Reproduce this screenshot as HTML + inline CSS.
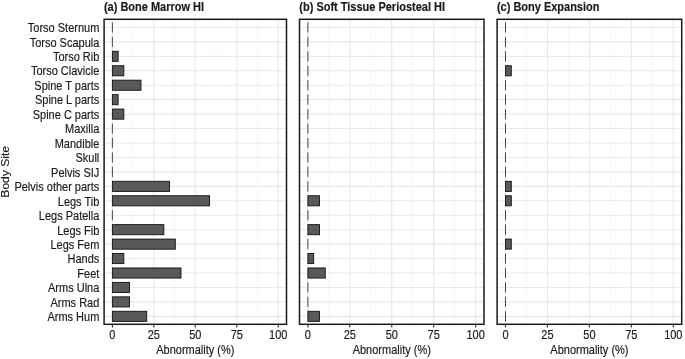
<!DOCTYPE html>
<html><head><meta charset="utf-8"><style>
html,body{margin:0;padding:0;background:#fff;}
svg{display:block;will-change:transform;filter:blur(0.45px);}
text{font-family:"Liberation Sans",sans-serif;stroke:#1a1a1a;stroke-width:0.15px;}
</style></head><body>
<svg width="685" height="359" viewBox="0 0 685 359">
<rect x="0" y="0" width="685" height="359" fill="#fff"/>
<line x1="133.12" y1="19.3" x2="133.12" y2="324.3" stroke="#f1f1f1" stroke-width="0.6"/>
<line x1="174.57" y1="19.3" x2="174.57" y2="324.3" stroke="#f1f1f1" stroke-width="0.6"/>
<line x1="216.03" y1="19.3" x2="216.03" y2="324.3" stroke="#f1f1f1" stroke-width="0.6"/>
<line x1="257.48" y1="19.3" x2="257.48" y2="324.3" stroke="#f1f1f1" stroke-width="0.6"/>
<line x1="112.39" y1="19.3" x2="112.39" y2="324.3" stroke="#e9e9e9" stroke-width="1.1"/>
<line x1="153.85" y1="19.3" x2="153.85" y2="324.3" stroke="#e9e9e9" stroke-width="1.1"/>
<line x1="195.30" y1="19.3" x2="195.30" y2="324.3" stroke="#e9e9e9" stroke-width="1.1"/>
<line x1="236.75" y1="19.3" x2="236.75" y2="324.3" stroke="#e9e9e9" stroke-width="1.1"/>
<line x1="278.21" y1="19.3" x2="278.21" y2="324.3" stroke="#e9e9e9" stroke-width="1.1"/>
<line x1="104.1" y1="27.45" x2="286.5" y2="27.45" stroke="#e9e9e9" stroke-width="1.1"/>
<line x1="104.1" y1="41.89" x2="286.5" y2="41.89" stroke="#e9e9e9" stroke-width="1.1"/>
<line x1="104.1" y1="56.34" x2="286.5" y2="56.34" stroke="#e9e9e9" stroke-width="1.1"/>
<line x1="104.1" y1="70.78" x2="286.5" y2="70.78" stroke="#e9e9e9" stroke-width="1.1"/>
<line x1="104.1" y1="85.23" x2="286.5" y2="85.23" stroke="#e9e9e9" stroke-width="1.1"/>
<line x1="104.1" y1="99.67" x2="286.5" y2="99.67" stroke="#e9e9e9" stroke-width="1.1"/>
<line x1="104.1" y1="114.12" x2="286.5" y2="114.12" stroke="#e9e9e9" stroke-width="1.1"/>
<line x1="104.1" y1="128.56" x2="286.5" y2="128.56" stroke="#e9e9e9" stroke-width="1.1"/>
<line x1="104.1" y1="143.01" x2="286.5" y2="143.01" stroke="#e9e9e9" stroke-width="1.1"/>
<line x1="104.1" y1="157.45" x2="286.5" y2="157.45" stroke="#e9e9e9" stroke-width="1.1"/>
<line x1="104.1" y1="171.90" x2="286.5" y2="171.90" stroke="#e9e9e9" stroke-width="1.1"/>
<line x1="104.1" y1="186.34" x2="286.5" y2="186.34" stroke="#e9e9e9" stroke-width="1.1"/>
<line x1="104.1" y1="200.79" x2="286.5" y2="200.79" stroke="#e9e9e9" stroke-width="1.1"/>
<line x1="104.1" y1="215.23" x2="286.5" y2="215.23" stroke="#e9e9e9" stroke-width="1.1"/>
<line x1="104.1" y1="229.68" x2="286.5" y2="229.68" stroke="#e9e9e9" stroke-width="1.1"/>
<line x1="104.1" y1="244.12" x2="286.5" y2="244.12" stroke="#e9e9e9" stroke-width="1.1"/>
<line x1="104.1" y1="258.57" x2="286.5" y2="258.57" stroke="#e9e9e9" stroke-width="1.1"/>
<line x1="104.1" y1="273.01" x2="286.5" y2="273.01" stroke="#e9e9e9" stroke-width="1.1"/>
<line x1="104.1" y1="287.46" x2="286.5" y2="287.46" stroke="#e9e9e9" stroke-width="1.1"/>
<line x1="104.1" y1="301.90" x2="286.5" y2="301.90" stroke="#e9e9e9" stroke-width="1.1"/>
<line x1="104.1" y1="316.35" x2="286.5" y2="316.35" stroke="#e9e9e9" stroke-width="1.1"/>
<line x1="112.39" y1="22.39" x2="112.39" y2="32.51" stroke="#333" stroke-width="0.9"/>
<line x1="112.39" y1="36.84" x2="112.39" y2="46.95" stroke="#333" stroke-width="0.9"/>
<rect x="112.39" y="51.28" width="5.72" height="10.11" fill="#595959" stroke="#111" stroke-width="0.9"/>
<rect x="112.39" y="65.73" width="11.44" height="10.11" fill="#595959" stroke="#111" stroke-width="0.9"/>
<rect x="112.39" y="80.17" width="28.59" height="10.11" fill="#595959" stroke="#111" stroke-width="0.9"/>
<rect x="112.39" y="94.62" width="5.72" height="10.11" fill="#595959" stroke="#111" stroke-width="0.9"/>
<rect x="112.39" y="109.06" width="11.44" height="10.11" fill="#595959" stroke="#111" stroke-width="0.9"/>
<line x1="112.39" y1="123.51" x2="112.39" y2="133.62" stroke="#333" stroke-width="0.9"/>
<line x1="112.39" y1="137.95" x2="112.39" y2="148.07" stroke="#333" stroke-width="0.9"/>
<line x1="112.39" y1="152.40" x2="112.39" y2="162.51" stroke="#333" stroke-width="0.9"/>
<line x1="112.39" y1="166.84" x2="112.39" y2="176.96" stroke="#333" stroke-width="0.9"/>
<rect x="112.39" y="181.29" width="57.18" height="10.11" fill="#595959" stroke="#111" stroke-width="0.9"/>
<rect x="112.39" y="195.73" width="97.20" height="10.11" fill="#595959" stroke="#111" stroke-width="0.9"/>
<line x1="112.39" y1="210.18" x2="112.39" y2="220.29" stroke="#333" stroke-width="0.9"/>
<rect x="112.39" y="224.62" width="51.46" height="10.11" fill="#595959" stroke="#111" stroke-width="0.9"/>
<rect x="112.39" y="239.07" width="62.90" height="10.11" fill="#595959" stroke="#111" stroke-width="0.9"/>
<rect x="112.39" y="253.51" width="11.44" height="10.11" fill="#595959" stroke="#111" stroke-width="0.9"/>
<rect x="112.39" y="267.96" width="68.61" height="10.11" fill="#595959" stroke="#111" stroke-width="0.9"/>
<rect x="112.39" y="282.40" width="17.15" height="10.11" fill="#595959" stroke="#111" stroke-width="0.9"/>
<rect x="112.39" y="296.85" width="17.15" height="10.11" fill="#595959" stroke="#111" stroke-width="0.9"/>
<rect x="112.39" y="311.29" width="34.31" height="10.11" fill="#595959" stroke="#111" stroke-width="0.9"/>
<rect x="104.1" y="19.3" width="182.40" height="305.00" fill="none" stroke="#1a1a1a" stroke-width="1.5"/>
<line x1="112.39" y1="324.3" x2="112.39" y2="327.5" stroke="#333" stroke-width="1.1"/>
<text transform="translate(112.39,338.80) scale(1,1.1)" text-anchor="middle" font-size="11" fill="#1a1a1a">0</text>
<line x1="153.85" y1="324.3" x2="153.85" y2="327.5" stroke="#333" stroke-width="1.1"/>
<text transform="translate(153.85,338.80) scale(1,1.1)" text-anchor="middle" font-size="11" fill="#1a1a1a">25</text>
<line x1="195.30" y1="324.3" x2="195.30" y2="327.5" stroke="#333" stroke-width="1.1"/>
<text transform="translate(195.30,338.80) scale(1,1.1)" text-anchor="middle" font-size="11" fill="#1a1a1a">50</text>
<line x1="236.75" y1="324.3" x2="236.75" y2="327.5" stroke="#333" stroke-width="1.1"/>
<text transform="translate(236.75,338.80) scale(1,1.1)" text-anchor="middle" font-size="11" fill="#1a1a1a">75</text>
<line x1="278.21" y1="324.3" x2="278.21" y2="327.5" stroke="#333" stroke-width="1.1"/>
<text transform="translate(278.21,338.80) scale(1,1.1)" text-anchor="middle" font-size="11" fill="#1a1a1a">100</text>
<text transform="translate(195.30,353.50) scale(1,1.1)" text-anchor="middle" font-size="11" fill="#1a1a1a">Abnormality (%)</text>
<text transform="translate(103.90,10.60) scale(1,1.1)" text-anchor="start" font-size="11" font-weight="bold" fill="#1a1a1a">(a) Bone Marrow HI</text>
<line x1="328.85" y1="19.3" x2="328.85" y2="324.3" stroke="#f1f1f1" stroke-width="0.6"/>
<line x1="370.78" y1="19.3" x2="370.78" y2="324.3" stroke="#f1f1f1" stroke-width="0.6"/>
<line x1="412.72" y1="19.3" x2="412.72" y2="324.3" stroke="#f1f1f1" stroke-width="0.6"/>
<line x1="454.65" y1="19.3" x2="454.65" y2="324.3" stroke="#f1f1f1" stroke-width="0.6"/>
<line x1="307.89" y1="19.3" x2="307.89" y2="324.3" stroke="#e9e9e9" stroke-width="1.1"/>
<line x1="349.82" y1="19.3" x2="349.82" y2="324.3" stroke="#e9e9e9" stroke-width="1.1"/>
<line x1="391.75" y1="19.3" x2="391.75" y2="324.3" stroke="#e9e9e9" stroke-width="1.1"/>
<line x1="433.68" y1="19.3" x2="433.68" y2="324.3" stroke="#e9e9e9" stroke-width="1.1"/>
<line x1="475.61" y1="19.3" x2="475.61" y2="324.3" stroke="#e9e9e9" stroke-width="1.1"/>
<line x1="299.5" y1="27.45" x2="484.0" y2="27.45" stroke="#e9e9e9" stroke-width="1.1"/>
<line x1="299.5" y1="41.89" x2="484.0" y2="41.89" stroke="#e9e9e9" stroke-width="1.1"/>
<line x1="299.5" y1="56.34" x2="484.0" y2="56.34" stroke="#e9e9e9" stroke-width="1.1"/>
<line x1="299.5" y1="70.78" x2="484.0" y2="70.78" stroke="#e9e9e9" stroke-width="1.1"/>
<line x1="299.5" y1="85.23" x2="484.0" y2="85.23" stroke="#e9e9e9" stroke-width="1.1"/>
<line x1="299.5" y1="99.67" x2="484.0" y2="99.67" stroke="#e9e9e9" stroke-width="1.1"/>
<line x1="299.5" y1="114.12" x2="484.0" y2="114.12" stroke="#e9e9e9" stroke-width="1.1"/>
<line x1="299.5" y1="128.56" x2="484.0" y2="128.56" stroke="#e9e9e9" stroke-width="1.1"/>
<line x1="299.5" y1="143.01" x2="484.0" y2="143.01" stroke="#e9e9e9" stroke-width="1.1"/>
<line x1="299.5" y1="157.45" x2="484.0" y2="157.45" stroke="#e9e9e9" stroke-width="1.1"/>
<line x1="299.5" y1="171.90" x2="484.0" y2="171.90" stroke="#e9e9e9" stroke-width="1.1"/>
<line x1="299.5" y1="186.34" x2="484.0" y2="186.34" stroke="#e9e9e9" stroke-width="1.1"/>
<line x1="299.5" y1="200.79" x2="484.0" y2="200.79" stroke="#e9e9e9" stroke-width="1.1"/>
<line x1="299.5" y1="215.23" x2="484.0" y2="215.23" stroke="#e9e9e9" stroke-width="1.1"/>
<line x1="299.5" y1="229.68" x2="484.0" y2="229.68" stroke="#e9e9e9" stroke-width="1.1"/>
<line x1="299.5" y1="244.12" x2="484.0" y2="244.12" stroke="#e9e9e9" stroke-width="1.1"/>
<line x1="299.5" y1="258.57" x2="484.0" y2="258.57" stroke="#e9e9e9" stroke-width="1.1"/>
<line x1="299.5" y1="273.01" x2="484.0" y2="273.01" stroke="#e9e9e9" stroke-width="1.1"/>
<line x1="299.5" y1="287.46" x2="484.0" y2="287.46" stroke="#e9e9e9" stroke-width="1.1"/>
<line x1="299.5" y1="301.90" x2="484.0" y2="301.90" stroke="#e9e9e9" stroke-width="1.1"/>
<line x1="299.5" y1="316.35" x2="484.0" y2="316.35" stroke="#e9e9e9" stroke-width="1.1"/>
<line x1="307.89" y1="22.39" x2="307.89" y2="32.51" stroke="#333" stroke-width="0.9"/>
<line x1="307.89" y1="36.84" x2="307.89" y2="46.95" stroke="#333" stroke-width="0.9"/>
<line x1="307.89" y1="51.28" x2="307.89" y2="61.40" stroke="#333" stroke-width="0.9"/>
<line x1="307.89" y1="65.73" x2="307.89" y2="75.84" stroke="#333" stroke-width="0.9"/>
<line x1="307.89" y1="80.17" x2="307.89" y2="90.29" stroke="#333" stroke-width="0.9"/>
<line x1="307.89" y1="94.62" x2="307.89" y2="104.73" stroke="#333" stroke-width="0.9"/>
<line x1="307.89" y1="109.06" x2="307.89" y2="119.18" stroke="#333" stroke-width="0.9"/>
<line x1="307.89" y1="123.51" x2="307.89" y2="133.62" stroke="#333" stroke-width="0.9"/>
<line x1="307.89" y1="137.95" x2="307.89" y2="148.07" stroke="#333" stroke-width="0.9"/>
<line x1="307.89" y1="152.40" x2="307.89" y2="162.51" stroke="#333" stroke-width="0.9"/>
<line x1="307.89" y1="166.84" x2="307.89" y2="176.96" stroke="#333" stroke-width="0.9"/>
<line x1="307.89" y1="181.29" x2="307.89" y2="191.40" stroke="#333" stroke-width="0.9"/>
<rect x="307.89" y="195.73" width="11.57" height="10.11" fill="#595959" stroke="#111" stroke-width="0.9"/>
<line x1="307.89" y1="210.18" x2="307.89" y2="220.29" stroke="#333" stroke-width="0.9"/>
<rect x="307.89" y="224.62" width="11.57" height="10.11" fill="#595959" stroke="#111" stroke-width="0.9"/>
<line x1="307.89" y1="239.07" x2="307.89" y2="249.18" stroke="#333" stroke-width="0.9"/>
<rect x="307.89" y="253.51" width="5.78" height="10.11" fill="#595959" stroke="#111" stroke-width="0.9"/>
<rect x="307.89" y="267.96" width="17.35" height="10.11" fill="#595959" stroke="#111" stroke-width="0.9"/>
<line x1="307.89" y1="282.40" x2="307.89" y2="292.52" stroke="#333" stroke-width="0.9"/>
<line x1="307.89" y1="296.85" x2="307.89" y2="306.96" stroke="#333" stroke-width="0.9"/>
<rect x="307.89" y="311.29" width="11.57" height="10.11" fill="#595959" stroke="#111" stroke-width="0.9"/>
<rect x="299.5" y="19.3" width="184.50" height="305.00" fill="none" stroke="#1a1a1a" stroke-width="1.5"/>
<line x1="307.89" y1="324.3" x2="307.89" y2="327.5" stroke="#333" stroke-width="1.1"/>
<text transform="translate(307.89,338.80) scale(1,1.1)" text-anchor="middle" font-size="11" fill="#1a1a1a">0</text>
<line x1="349.82" y1="324.3" x2="349.82" y2="327.5" stroke="#333" stroke-width="1.1"/>
<text transform="translate(349.82,338.80) scale(1,1.1)" text-anchor="middle" font-size="11" fill="#1a1a1a">25</text>
<line x1="391.75" y1="324.3" x2="391.75" y2="327.5" stroke="#333" stroke-width="1.1"/>
<text transform="translate(391.75,338.80) scale(1,1.1)" text-anchor="middle" font-size="11" fill="#1a1a1a">50</text>
<line x1="433.68" y1="324.3" x2="433.68" y2="327.5" stroke="#333" stroke-width="1.1"/>
<text transform="translate(433.68,338.80) scale(1,1.1)" text-anchor="middle" font-size="11" fill="#1a1a1a">75</text>
<line x1="475.61" y1="324.3" x2="475.61" y2="327.5" stroke="#333" stroke-width="1.1"/>
<text transform="translate(475.61,338.80) scale(1,1.1)" text-anchor="middle" font-size="11" fill="#1a1a1a">100</text>
<text transform="translate(391.75,353.50) scale(1,1.1)" text-anchor="middle" font-size="11" fill="#1a1a1a">Abnormality (%)</text>
<text transform="translate(299.30,10.60) scale(1,1.1)" text-anchor="start" font-size="11" font-weight="bold" fill="#1a1a1a">(b) Soft Tissue Periosteal HI</text>
<line x1="526.47" y1="19.3" x2="526.47" y2="324.3" stroke="#f1f1f1" stroke-width="0.6"/>
<line x1="568.42" y1="19.3" x2="568.42" y2="324.3" stroke="#f1f1f1" stroke-width="0.6"/>
<line x1="610.38" y1="19.3" x2="610.38" y2="324.3" stroke="#f1f1f1" stroke-width="0.6"/>
<line x1="652.33" y1="19.3" x2="652.33" y2="324.3" stroke="#f1f1f1" stroke-width="0.6"/>
<line x1="505.49" y1="19.3" x2="505.49" y2="324.3" stroke="#e9e9e9" stroke-width="1.1"/>
<line x1="547.45" y1="19.3" x2="547.45" y2="324.3" stroke="#e9e9e9" stroke-width="1.1"/>
<line x1="589.40" y1="19.3" x2="589.40" y2="324.3" stroke="#e9e9e9" stroke-width="1.1"/>
<line x1="631.35" y1="19.3" x2="631.35" y2="324.3" stroke="#e9e9e9" stroke-width="1.1"/>
<line x1="673.31" y1="19.3" x2="673.31" y2="324.3" stroke="#e9e9e9" stroke-width="1.1"/>
<line x1="497.1" y1="27.45" x2="681.7" y2="27.45" stroke="#e9e9e9" stroke-width="1.1"/>
<line x1="497.1" y1="41.89" x2="681.7" y2="41.89" stroke="#e9e9e9" stroke-width="1.1"/>
<line x1="497.1" y1="56.34" x2="681.7" y2="56.34" stroke="#e9e9e9" stroke-width="1.1"/>
<line x1="497.1" y1="70.78" x2="681.7" y2="70.78" stroke="#e9e9e9" stroke-width="1.1"/>
<line x1="497.1" y1="85.23" x2="681.7" y2="85.23" stroke="#e9e9e9" stroke-width="1.1"/>
<line x1="497.1" y1="99.67" x2="681.7" y2="99.67" stroke="#e9e9e9" stroke-width="1.1"/>
<line x1="497.1" y1="114.12" x2="681.7" y2="114.12" stroke="#e9e9e9" stroke-width="1.1"/>
<line x1="497.1" y1="128.56" x2="681.7" y2="128.56" stroke="#e9e9e9" stroke-width="1.1"/>
<line x1="497.1" y1="143.01" x2="681.7" y2="143.01" stroke="#e9e9e9" stroke-width="1.1"/>
<line x1="497.1" y1="157.45" x2="681.7" y2="157.45" stroke="#e9e9e9" stroke-width="1.1"/>
<line x1="497.1" y1="171.90" x2="681.7" y2="171.90" stroke="#e9e9e9" stroke-width="1.1"/>
<line x1="497.1" y1="186.34" x2="681.7" y2="186.34" stroke="#e9e9e9" stroke-width="1.1"/>
<line x1="497.1" y1="200.79" x2="681.7" y2="200.79" stroke="#e9e9e9" stroke-width="1.1"/>
<line x1="497.1" y1="215.23" x2="681.7" y2="215.23" stroke="#e9e9e9" stroke-width="1.1"/>
<line x1="497.1" y1="229.68" x2="681.7" y2="229.68" stroke="#e9e9e9" stroke-width="1.1"/>
<line x1="497.1" y1="244.12" x2="681.7" y2="244.12" stroke="#e9e9e9" stroke-width="1.1"/>
<line x1="497.1" y1="258.57" x2="681.7" y2="258.57" stroke="#e9e9e9" stroke-width="1.1"/>
<line x1="497.1" y1="273.01" x2="681.7" y2="273.01" stroke="#e9e9e9" stroke-width="1.1"/>
<line x1="497.1" y1="287.46" x2="681.7" y2="287.46" stroke="#e9e9e9" stroke-width="1.1"/>
<line x1="497.1" y1="301.90" x2="681.7" y2="301.90" stroke="#e9e9e9" stroke-width="1.1"/>
<line x1="497.1" y1="316.35" x2="681.7" y2="316.35" stroke="#e9e9e9" stroke-width="1.1"/>
<line x1="505.49" y1="22.39" x2="505.49" y2="32.51" stroke="#333" stroke-width="0.9"/>
<line x1="505.49" y1="36.84" x2="505.49" y2="46.95" stroke="#333" stroke-width="0.9"/>
<line x1="505.49" y1="51.28" x2="505.49" y2="61.40" stroke="#333" stroke-width="0.9"/>
<rect x="505.49" y="65.73" width="5.79" height="10.11" fill="#595959" stroke="#111" stroke-width="0.9"/>
<line x1="505.49" y1="80.17" x2="505.49" y2="90.29" stroke="#333" stroke-width="0.9"/>
<line x1="505.49" y1="94.62" x2="505.49" y2="104.73" stroke="#333" stroke-width="0.9"/>
<line x1="505.49" y1="109.06" x2="505.49" y2="119.18" stroke="#333" stroke-width="0.9"/>
<line x1="505.49" y1="123.51" x2="505.49" y2="133.62" stroke="#333" stroke-width="0.9"/>
<line x1="505.49" y1="137.95" x2="505.49" y2="148.07" stroke="#333" stroke-width="0.9"/>
<line x1="505.49" y1="152.40" x2="505.49" y2="162.51" stroke="#333" stroke-width="0.9"/>
<line x1="505.49" y1="166.84" x2="505.49" y2="176.96" stroke="#333" stroke-width="0.9"/>
<rect x="505.49" y="181.29" width="5.79" height="10.11" fill="#595959" stroke="#111" stroke-width="0.9"/>
<rect x="505.49" y="195.73" width="5.79" height="10.11" fill="#595959" stroke="#111" stroke-width="0.9"/>
<line x1="505.49" y1="210.18" x2="505.49" y2="220.29" stroke="#333" stroke-width="0.9"/>
<line x1="505.49" y1="224.62" x2="505.49" y2="234.74" stroke="#333" stroke-width="0.9"/>
<rect x="505.49" y="239.07" width="5.79" height="10.11" fill="#595959" stroke="#111" stroke-width="0.9"/>
<line x1="505.49" y1="253.51" x2="505.49" y2="263.63" stroke="#333" stroke-width="0.9"/>
<line x1="505.49" y1="267.96" x2="505.49" y2="278.07" stroke="#333" stroke-width="0.9"/>
<line x1="505.49" y1="282.40" x2="505.49" y2="292.52" stroke="#333" stroke-width="0.9"/>
<line x1="505.49" y1="296.85" x2="505.49" y2="306.96" stroke="#333" stroke-width="0.9"/>
<line x1="505.49" y1="311.29" x2="505.49" y2="321.41" stroke="#333" stroke-width="0.9"/>
<rect x="497.1" y="19.3" width="184.60" height="305.00" fill="none" stroke="#1a1a1a" stroke-width="1.5"/>
<line x1="505.49" y1="324.3" x2="505.49" y2="327.5" stroke="#333" stroke-width="1.1"/>
<text transform="translate(505.49,338.80) scale(1,1.1)" text-anchor="middle" font-size="11" fill="#1a1a1a">0</text>
<line x1="547.45" y1="324.3" x2="547.45" y2="327.5" stroke="#333" stroke-width="1.1"/>
<text transform="translate(547.45,338.80) scale(1,1.1)" text-anchor="middle" font-size="11" fill="#1a1a1a">25</text>
<line x1="589.40" y1="324.3" x2="589.40" y2="327.5" stroke="#333" stroke-width="1.1"/>
<text transform="translate(589.40,338.80) scale(1,1.1)" text-anchor="middle" font-size="11" fill="#1a1a1a">50</text>
<line x1="631.35" y1="324.3" x2="631.35" y2="327.5" stroke="#333" stroke-width="1.1"/>
<text transform="translate(631.35,338.80) scale(1,1.1)" text-anchor="middle" font-size="11" fill="#1a1a1a">75</text>
<line x1="673.31" y1="324.3" x2="673.31" y2="327.5" stroke="#333" stroke-width="1.1"/>
<text transform="translate(673.31,338.80) scale(1,1.1)" text-anchor="middle" font-size="11" fill="#1a1a1a">100</text>
<text transform="translate(589.40,353.50) scale(1,1.1)" text-anchor="middle" font-size="11" fill="#1a1a1a">Abnormality (%)</text>
<text transform="translate(496.90,10.60) scale(1,1.1)" text-anchor="start" font-size="11" font-weight="bold" fill="#1a1a1a">(c) Bony Expansion</text>
<text transform="translate(99.30,32.05) scale(1,1.1)" text-anchor="end" font-size="11" fill="#1a1a1a">Torso Sternum</text>
<text transform="translate(99.30,46.52) scale(1,1.1)" text-anchor="end" font-size="11" fill="#1a1a1a">Torso Scapula</text>
<text transform="translate(99.30,60.98) scale(1,1.1)" text-anchor="end" font-size="11" fill="#1a1a1a">Torso Rib</text>
<text transform="translate(99.30,75.44) scale(1,1.1)" text-anchor="end" font-size="11" fill="#1a1a1a">Torso Clavicle</text>
<text transform="translate(99.30,89.91) scale(1,1.1)" text-anchor="end" font-size="11" fill="#1a1a1a">Spine T parts</text>
<text transform="translate(99.30,104.37) scale(1,1.1)" text-anchor="end" font-size="11" fill="#1a1a1a">Spine L parts</text>
<text transform="translate(99.30,118.84) scale(1,1.1)" text-anchor="end" font-size="11" fill="#1a1a1a">Spine C parts</text>
<text transform="translate(99.30,133.30) scale(1,1.1)" text-anchor="end" font-size="11" fill="#1a1a1a">Maxilla</text>
<text transform="translate(99.30,147.77) scale(1,1.1)" text-anchor="end" font-size="11" fill="#1a1a1a">Mandible</text>
<text transform="translate(99.30,162.23) scale(1,1.1)" text-anchor="end" font-size="11" fill="#1a1a1a">Skull</text>
<text transform="translate(99.30,176.70) scale(1,1.1)" text-anchor="end" font-size="11" fill="#1a1a1a">Pelvis SIJ</text>
<text transform="translate(99.30,191.16) scale(1,1.1)" text-anchor="end" font-size="11" fill="#1a1a1a">Pelvis other parts</text>
<text transform="translate(99.30,205.63) scale(1,1.1)" text-anchor="end" font-size="11" fill="#1a1a1a">Legs Tib</text>
<text transform="translate(99.30,220.09) scale(1,1.1)" text-anchor="end" font-size="11" fill="#1a1a1a">Legs Patella</text>
<text transform="translate(99.30,234.56) scale(1,1.1)" text-anchor="end" font-size="11" fill="#1a1a1a">Legs Fib</text>
<text transform="translate(99.30,249.03) scale(1,1.1)" text-anchor="end" font-size="11" fill="#1a1a1a">Legs Fem</text>
<text transform="translate(99.30,263.49) scale(1,1.1)" text-anchor="end" font-size="11" fill="#1a1a1a">Hands</text>
<text transform="translate(99.30,277.95) scale(1,1.1)" text-anchor="end" font-size="11" fill="#1a1a1a">Feet</text>
<text transform="translate(99.30,292.42) scale(1,1.1)" text-anchor="end" font-size="11" fill="#1a1a1a">Arms Ulna</text>
<text transform="translate(99.30,306.88) scale(1,1.1)" text-anchor="end" font-size="11" fill="#1a1a1a">Arms Rad</text>
<text transform="translate(99.30,321.35) scale(1,1.1)" text-anchor="end" font-size="11" fill="#1a1a1a">Arms Hum</text>
<text transform="translate(9.30,171.80) rotate(-90) scale(1.1,1)" text-anchor="middle" font-size="11" fill="#1a1a1a">Body Site</text>
</svg>
</body></html>
